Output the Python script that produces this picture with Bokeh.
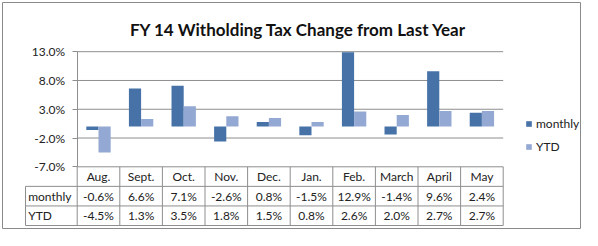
from bokeh.plotting import figure
from bokeh.models import ColumnDataSource, FixedTicker, PrintfTickFormatter, Range1d
from bokeh.embed import file_html
from bokeh.resources import INLINE
from bokeh.core.properties import value
from bokeh.transform import dodge

# ---- data ----
months = ["Aug.", "Sept.", "Oct.", "Nov.", "Dec.", "Jan.", "Feb.", "March", "April", "May"]
monthly = [-0.6, 6.6, 7.1, -2.6, 0.8, -1.5, 12.9, -1.4, 9.6, 2.4]
ytd = [-4.5, 1.3, 3.5, 1.8, 1.5, 0.8, 2.6, 2.0, 2.7, 2.7]
y_ticks = [-7, -2, 3, 8, 13]
row_names = ["monthly", "YTD"]
title_text = "FY 14 Witholding Tax Change from Last Year"

# ---- style / layout constants (pixels inside the figure) ----
MONTHLY_C = "#4672A8"
YTD_C = "#93A9D3"
LINE_C = "#8E8E8E"
BORDER_C = "#8A8A8A"
TEXT_C = "#222222"
FONT = "Lato"

W, H = 582, 230
PAD = 2                # frame inset; the frame outline is the outer border
X0_PX = 76.7           # value axis
PX_CAT = 42.6          # px per category
TOP_TICK_PX = 51.2     # 13% tick
HDR_TOP_PX = 166.3     # -7% tick = top of the table
PX_PCT = (HDR_TOP_PX - TOP_TICK_PX) / (y_ticks[-1] - y_ticks[0])
ROW_PX = 19.57         # table row height
LABEL_COL_PX = 25.0    # left edge of the row-label column
TITLE_X_PX, TITLE_Y_PX = 298, 29.2
LEG_X_PX, LEG_Y1_PX = 525, 123.4

n = len(months)
FL, FR, FT, FB = PAD, W - PAD, PAD, H - PAD
x_start = (FL - X0_PX) / PX_CAT
x_end = (FR - X0_PX) / PX_CAT
y_end = y_ticks[-1] + (TOP_TICK_PX - FT) / PX_PCT
y_start = y_ticks[-1] - (FB - TOP_TICK_PX) / PX_PCT
r_end = 3 + (HDR_TOP_PX - FT) / ROW_PX
r_start = 3 - (FB - HDR_TOP_PX) / ROW_PX
label_col = (LABEL_COL_PX - X0_PX) / PX_CAT

xc = [i + 0.5 for i in range(n)]
src = ColumnDataSource(dict(
    x=xc, month=months, monthly=monthly, ytd=ytd,
    monthly_txt=[f"{v:.1f}%" for v in monthly],
    ytd_txt=[f"{v:.1f}%" for v in ytd],
))

p = figure(width=W, height=H, x_range=Range1d(x_start, x_end), y_range=Range1d(y_start, y_end),
           x_axis_location=None, output_backend="svg", toolbar_location=None,
           min_border_left=PAD, min_border_right=PAD, min_border_top=PAD, min_border_bottom=PAD)
p.extra_y_ranges = {"rows": Range1d(r_start, r_end)}
p.outline_line_color = BORDER_C
p.outline_line_width = 1
p.xgrid.visible = False
p.ygrid.visible = False
p.background_fill_color = "white"
p.border_fill_color = "white"

ax = p.yaxis[0]
ax.fixed_location = 0
ax.ticker = FixedTicker(ticks=y_ticks)
ax.formatter = PrintfTickFormatter(format="%.1f%%")
ax.bounds = (y_ticks[0], y_ticks[-1])
ax.axis_line_color = LINE_C
ax.major_tick_line_color = LINE_C
ax.major_tick_out = 5
ax.major_tick_in = 0
ax.minor_tick_out = 0
ax.minor_tick_in = 0
ax.major_label_standoff = 7
ax.major_label_text_font = FONT
ax.major_label_text_font_size = "12px"
ax.major_label_text_color = TEXT_C

# value gridlines
p.segment(x0=[0] * len(y_ticks), y0=y_ticks, x1=[n] * len(y_ticks), y1=y_ticks,
          line_color=LINE_C, line_width=1)

bw = 0.286
p.vbar(x=dodge("x", -bw / 2, range=p.x_range), top="monthly", bottom=0, width=bw,
       source=src, fill_color=MONTHLY_C, line_color=None, legend_label="monthly")
p.vbar(x=dodge("x", bw / 2, range=p.x_range), top="ytd", bottom=0, width=bw,
       source=src, fill_color=YTD_C, line_color=None, legend_label="YTD")

# ---- data table ----
rows_y = [0, 1, 2]
p.segment(x0=[label_col] * 3, y0=rows_y, x1=[n] * 3, y1=rows_y, line_color=LINE_C,
          line_width=1, y_range_name="rows")
vx = list(range(0, n + 1))
p.segment(x0=vx, y0=[0] * len(vx), x1=vx, y1=[3] * len(vx), line_color=LINE_C,
          line_width=1, y_range_name="rows")
p.segment(x0=[label_col], y0=[0], x1=[label_col], y1=[2], line_color=LINE_C,
          line_width=1, y_range_name="rows")

txt = dict(text_font=value(FONT), text_font_size="12px", text_color=TEXT_C,
           text_baseline="middle", y_range_name="rows")
p.text(x="x", y=2.5, text="month", source=src, text_align="center", **txt)
p.text(x=[label_col + 2.7 / PX_CAT] * 2, y=[1.5, 0.5], text=row_names, text_align="left", **txt)
p.text(x="x", y=1.5, text="monthly_txt", source=src, text_align="center", **txt)
p.text(x="x", y=0.5, text="ytd_txt", source=src, text_align="center", **txt)

# ---- title ----
p.text(x=[(TITLE_X_PX - X0_PX) / PX_CAT], y=[y_ticks[-1] + (TOP_TICK_PX - TITLE_Y_PX) / PX_PCT],
       text=[title_text], text_font=value(FONT), text_font_size="17px", text_font_style="bold",
       text_color="#111111", text_align="center", text_baseline="alphabetic")

# ---- legend ----
lg = p.legend[0]
LEG_ROW, LEG_SP = 16, 7
leg_h = 2 * LEG_ROW + LEG_SP
leg_top = LEG_Y1_PX - LEG_ROW / 2
lg.location = (LEG_X_PX - FL, FB - leg_top - leg_h)
lg.padding = 0
lg.margin = 0
lg.spacing = LEG_SP
lg.glyph_width = 7
lg.glyph_height = 7
lg.label_height = LEG_ROW
lg.label_standoff = 4
lg.border_line_color = None
lg.background_fill_alpha = 0
lg.label_text_font = FONT
lg.label_text_font_size = "12px"
lg.label_text_color = TEXT_C

open("out.html", "w").write(file_html(p, INLINE))
